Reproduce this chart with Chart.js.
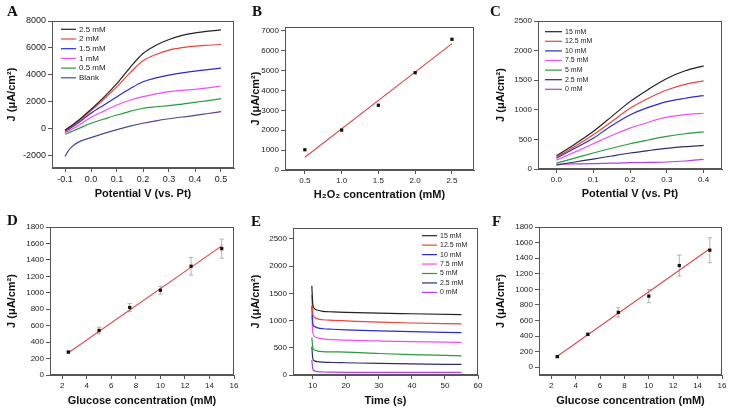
<!DOCTYPE html>
<html>
<head>
<meta charset="utf-8">
<script src="https://cdn.jsdelivr.net/npm/chart.js@4.4.0/dist/chart.umd.min.js"></script>
<style>
body { margin: 0; background: #fff; width: 733px; height: 410px; overflow: hidden; position: relative; }
.pane { position: absolute; }
.tag { position: absolute; font: bold 15px "Liberation Serif", "Times New Roman", serif; line-height: 15px; color: #111; }
</style>
</head>
<body>
<div class="pane" style="left:0;top:0;width:244px;height:205px"><canvas id="chartA"></canvas></div>
<div class="pane" style="left:244px;top:0;width:245px;height:205px"><canvas id="chartB"></canvas></div>
<div class="pane" style="left:489px;top:0;width:244px;height:205px"><canvas id="chartC"></canvas></div>
<div class="pane" style="left:0;top:205px;width:244px;height:205px"><canvas id="chartD"></canvas></div>
<div class="pane" style="left:244px;top:205px;width:245px;height:205px"><canvas id="chartE"></canvas></div>
<div class="pane" style="left:489px;top:205px;width:244px;height:205px"><canvas id="chartF"></canvas></div>
<div class="tag" style="left:7px;top:4px">A</div>
<div class="tag" style="left:252px;top:4px">B</div>
<div class="tag" style="left:490px;top:4px">C</div>
<div class="tag" style="left:7px;top:213px">D</div>
<div class="tag" style="left:251px;top:214px">E</div>
<div class="tag" style="left:492px;top:214px">F</div>
<script>
// panel A: LSV in H2O2
var potA = [-0.1, -0.09, -0.075, -0.05, 0, 0.05, 0.1, 0.15, 0.2, 0.25, 0.3, 0.35, 0.4, 0.45, 0.5];
var labelsA = ['2.5 mM', '2 mM', '1.5 mM', '1 mM', '0.5 mM', 'Blank'];
var colorsA = ['#222222', '#e8453c', '#2b2bd0', '#f050f0', '#2a9a3a', '#4a4a96'];
var jA25 = [-100, 50, 250, 600, 1450, 2350, 3370, 4550, 5590, 6200, 6630, 6930, 7120, 7250, 7340];
var jA20 = [-150, 0, 200, 550, 1350, 2220, 3130, 4150, 5050, 5520, 5840, 6020, 6130, 6200, 6260];
var jA15 = [-200, -80, 100, 430, 1160, 1780, 2390, 2980, 3500, 3780, 3990, 4160, 4290, 4400, 4500];
var jA10 = [-300, -200, -50, 230, 860, 1320, 1770, 2120, 2390, 2600, 2760, 2860, 2930, 3040, 3180];
var jA05 = [-400, -320, -200, 0, 420, 730, 1030, 1300, 1530, 1640, 1720, 1840, 1970, 2100, 2240];
var jABlank = [-2050, -1700, -1350, -1000, -650, -330, -50, 200, 420, 600, 750, 880, 1000, 1140, 1280];
var ticksAx = [-0.1, 0, 0.1, 0.2, 0.3, 0.4, 0.5];
var ticksAy = [-2000, 0, 2000, 4000, 6000, 8000];

// panel B: H2O2 calibration
var concB = [0.5, 1.0, 1.5, 2.0, 2.5];
var jB = [1020, 2010, 3260, 4900, 6580];
var fitBx = [0.5, 2.5];
var fitBy = [640, 6360];
var ticksBx = [0.5, 1.0, 1.5, 2.0, 2.5];
var ticksBy = [0, 1000, 2000, 3000, 4000, 5000, 6000, 7000];

// panel C: LSV in glucose
var potC = [0, 0.05, 0.1, 0.15, 0.2, 0.25, 0.3, 0.35, 0.4];
var labelsC = ['15 mM', '12.5 mM', '10 mM', '7.5 mM', '5 mM', '2.5 mM', '0 mM'];
var colorsC = ['#222222', '#e8453c', '#2b2bd0', '#f050f0', '#2a9a3a', '#2e2e6e', '#b040e0'];
var jC150 = [224, 420, 633, 885, 1138, 1345, 1530, 1660, 1743];
var jC125 = [200, 380, 577, 800, 1025, 1195, 1334, 1430, 1490];
var jC100 = [180, 350, 520, 730, 913, 1040, 1138, 1195, 1240];
var jC075 = [150, 285, 426, 566, 690, 790, 875, 920, 942];
var jC050 = [100, 185, 270, 350, 426, 490, 550, 595, 628];
var jC025 = [67, 118, 168, 220, 270, 312, 350, 378, 398];
var jC000 = [80, 85, 90, 98, 106, 112, 118, 135, 162];
var ticksCx = [0, 0.1, 0.2, 0.3, 0.4];
var ticksCy = [0, 500, 1000, 1500, 2000, 2500];

// panel D: glucose calibration (LSV)
var concD = [2.5, 5, 7.5, 10, 12.5, 15];
var jD = [279, 542, 821, 1031, 1323, 1537];
var errD = [10, 40, 47, 48, 107, 117];
var fitDx = [2.5, 15];
var fitDy = [271, 1570];
var ticksGx = [2, 4, 6, 8, 10, 12, 14, 16];
var ticksGy = [0, 200, 400, 600, 800, 1000, 1200, 1400, 1600, 1800];

// panel E: chronoamperometry
var timeE = [9.7, 10, 10.5, 11.5, 13, 16, 20, 30, 40, 55];
var jE150 = [1640, 1300, 1220, 1190, 1170, 1160, 1150, 1135, 1125, 1110];
var jE125 = [1470, 1130, 1060, 1030, 1015, 1005, 995, 970, 955, 940];
var jE100 = [1270, 950, 890, 865, 850, 840, 830, 810, 795, 777];
var jE075 = [1100, 780, 710, 680, 665, 650, 640, 625, 612, 600];
var jE050 = [690, 500, 460, 440, 430, 425, 420, 395, 375, 352];
var jE025 = [520, 300, 260, 245, 235, 230, 225, 212, 203, 194];
var jE000 = [275, 110, 75, 60, 55, 52, 50, 49, 49, 48];
var ticksEx = [10, 20, 30, 40, 50, 60];
var ticksEy = [0, 500, 1000, 1500, 2000, 2500];

// panel F: glucose calibration (amperometric)
var concF = [2.5, 5, 7.5, 10, 12.5, 15];
var jF = [136, 422, 704, 913, 1305, 1502];
var errF = [10, 15, 60, 85, 135, 160];
var fitFx = [2.5, 15];
var fitFy = [140, 1520];

var FONT = '"Liberation Sans", Arial, sans-serif';
var AXIS = '#555';

function pairs(xs, ys) {
    return xs.map(function (x, i) { return { x: x, y: ys[i] }; });
}

// draws the box round the plot area
var frame = {
    id: 'frame',
    afterDraw: function (chart) {
        var a = chart.chartArea, ctx = chart.ctx;
        ctx.save();
        ctx.strokeStyle = AXIS;
        ctx.lineWidth = 1;
        ctx.strokeRect(Math.round(a.left) + 0.5, Math.round(a.top) + 0.5,
            Math.round(a.right) - Math.round(a.left) - 1, Math.round(a.bottom) - Math.round(a.top) - 1);
        ctx.restore();
    }
};

// small legend inside the plot area, from the dataset labels and colours
var boxLegend = {
    id: 'boxLegend',
    afterDatasetsDraw: function (chart, args, opts) {
        if (!opts || !opts.show) return;
        var a = chart.chartArea, ctx = chart.ctx;
        var x0 = opts.fromRight ? a.right - opts.x : a.left + opts.x;
        ctx.save();
        ctx.font = opts.size + 'px ' + FONT;
        ctx.textBaseline = 'middle';
        chart.data.datasets.forEach(function (ds, i) {
            var y = a.top + opts.y + i * opts.gap;
            ctx.strokeStyle = ds.borderColor;
            ctx.lineWidth = 1.2;
            ctx.beginPath();
            ctx.moveTo(x0, y);
            ctx.lineTo(x0 + opts.len, y);
            ctx.stroke();
            ctx.fillStyle = '#222';
            ctx.fillText(ds.label, x0 + opts.len + 3, y);
        });
        ctx.restore();
    }
};

function xAxis(min, max, vals, title, h, fs, dec, tpad) {
    return {
        type: 'linear', min: min, max: max,
        afterBuildTicks: function (s) { s.ticks = vals.map(function (v) { return { value: v }; }); },
        ticks: {
            autoSkip: false, maxRotation: 0,
            color: '#222', padding: 2, font: { family: FONT, size: fs },
            callback: function (v) { return dec ? v.toFixed(dec) : String(Math.round(v)); }
        },
        grid: { drawOnChartArea: false, drawTicks: true, tickLength: 4, color: AXIS },
        border: { display: true, color: AXIS },
        title: { display: true, text: title, color: '#111', font: { family: FONT, size: 11, weight: 'bold' }, padding: { top: 2, bottom: tpad } },
        afterFit: function (s) { s.height = h; s.paddingLeft = 0; s.paddingRight = 0; }
    };
}

function yAxis(min, max, vals, w, fs) {
    return {
        type: 'linear', min: min, max: max,
        afterBuildTicks: function (s) { s.ticks = vals.map(function (v) { return { value: v }; }); },
        ticks: {
            autoSkip: false,
            color: '#222', padding: 2, font: { family: FONT, size: fs },
            callback: function (v) { return String(Math.round(v)); }
        },
        grid: { drawOnChartArea: false, drawTicks: true, tickLength: 4, color: AXIS },
        border: { display: true, color: AXIS },
        title: { display: true, text: 'J (\u03bcA/cm\u00b2)', color: '#111', font: { family: FONT, size: 11, weight: 'bold' }, padding: { top: 5, bottom: 2 } },
        afterFit: function (s) { s.width = w; s.paddingTop = 0; s.paddingBottom = 0; }
    };
}

function baseOptions(pad, x, y, legend) {
    return {
        responsive: true, maintainAspectRatio: false, animation: false, events: [],
        layout: { padding: pad },
        scales: { x: x, y: y },
        plugins: { legend: { display: false }, tooltip: { enabled: false }, boxLegend: legend || { show: false } }
    };
}

function curve(label, color, xs, ys) {
    return {
        label: label, data: pairs(xs, ys), borderColor: color, borderWidth: 1.2,
        pointRadius: 0, fill: false, cubicInterpolationMode: 'monotone'
    };
}

function calibration(xs, ys, errs, fx, fy) {
    var sets = [{
        label: 'data', data: pairs(xs, ys), showLine: false,
        pointStyle: 'rect', pointRadius: 2.3, backgroundColor: '#111', borderColor: '#111', borderWidth: 0
    }, {
        label: 'fit', data: pairs(fx, fy), showLine: true, borderColor: '#e04848', borderWidth: 1.1,
        pointRadius: 0, fill: false
    }];
    if (errs) {
        var bars = [], caps = [];
        xs.forEach(function (x, i) {
            bars.push({ x: x, y: ys[i] - errs[i] }, { x: x, y: ys[i] + errs[i] }, { x: x, y: null });
            caps.push({ x: x, y: ys[i] - errs[i] }, { x: x, y: ys[i] + errs[i] });
        });
        sets.push({
            label: 'err', data: bars, showLine: true, spanGaps: false, borderColor: '#a0a0a0',
            borderWidth: 0.8, pointRadius: 0, fill: false
        }, {
            label: 'cap', data: caps, showLine: false, pointStyle: 'line', pointRadius: 2.2,
            borderColor: '#a0a0a0', borderWidth: 0.8
        });
    }
    return sets;
}

var plugins = [frame, boxLegend];

new Chart(document.getElementById('chartA'), {
    type: 'line',
    data: {
        datasets: [jA25, jA20, jA15, jA10, jA05, jABlank].map(function (ys, i) {
            return curve(labelsA[i], colorsA[i], potA, ys);
        })
    },
    options: baseOptions({ left: 0, right: 10, top: 21, bottom: 0 },
        xAxis(-0.15, 0.55, ticksAx, 'Potential V (vs. Pt)', 37, 9, 1, 4),
        yAxis(-2900, 8000, ticksAy, 52, 9),
        { show: true, x: 9, y: 8.3, gap: 9.7, len: 15, size: 8 }),
    plugins: plugins
});

new Chart(document.getElementById('chartB'), {
    type: 'scatter',
    data: { datasets: calibration(concB, jB, null, fitBx, fitBy) },
    options: baseOptions({ left: 0, right: 15, top: 27, bottom: 0 },
        xAxis(0.23, 2.8, ticksBx, 'H\u2082O\u2082 concentration (mM)', 35, 8, 1, 3),
        yAxis(0, 7200, ticksBy, 41, 8)),
    plugins: plugins
});

new Chart(document.getElementById('chartC'), {
    type: 'line',
    data: {
        datasets: [jC150, jC125, jC100, jC075, jC050, jC025, jC000].map(function (ys, i) {
            return curve(labelsC[i], colorsC[i], potC, ys);
        })
    },
    options: baseOptions({ left: 0, right: 11, top: 21, bottom: 0 },
        xAxis(-0.05, 0.45, ticksCx, 'Potential V (vs. Pt)', 36, 8, 1, 4),
        yAxis(0, 2500, ticksCy, 49, 8),
        { show: true, x: 7, y: 10.7, gap: 9.6, len: 17, size: 7 }),
    plugins: plugins
});

new Chart(document.getElementById('chartD'), {
    type: 'scatter',
    data: { datasets: calibration(concD, jD, errD, fitDx, fitDy) },
    options: baseOptions({ left: 0, right: 10, top: 22, bottom: 0 },
        xAxis(1, 16, ticksGx, 'Glucose concentration (mM)', 35, 8, 0, 2),
        yAxis(0, 1800, ticksGy, 50, 8)),
    plugins: plugins
});

new Chart(document.getElementById('chartE'), {
    type: 'line',
    data: {
        datasets: [jE150, jE125, jE100, jE075, jE050, jE025, jE000].map(function (ys, i) {
            return curve(labelsC[i], colorsC[i], timeE, ys);
        })
    },
    options: baseOptions({ left: 0, right: 11, top: 23, bottom: 0 },
        xAxis(4, 60, ticksEx, 'Time (s)', 35, 8, 0, 2),
        yAxis(0, 2700, ticksEy, 49, 8),
        { show: true, fromRight: true, x: 56, y: 7.7, gap: 9.45, len: 15, size: 7 }),
    plugins: plugins
});

new Chart(document.getElementById('chartF'), {
    type: 'scatter',
    data: { datasets: calibration(concF, jF, errF, fitFx, fitFy) },
    options: baseOptions({ left: 0, right: 11, top: 22, bottom: 0 },
        xAxis(1, 16, ticksGx, 'Glucose concentration (mM)', 35, 8, 0, 2),
        yAxis(-100, 1800, ticksGy, 50, 8)),
    plugins: plugins
});
</script>
</body>
</html>
